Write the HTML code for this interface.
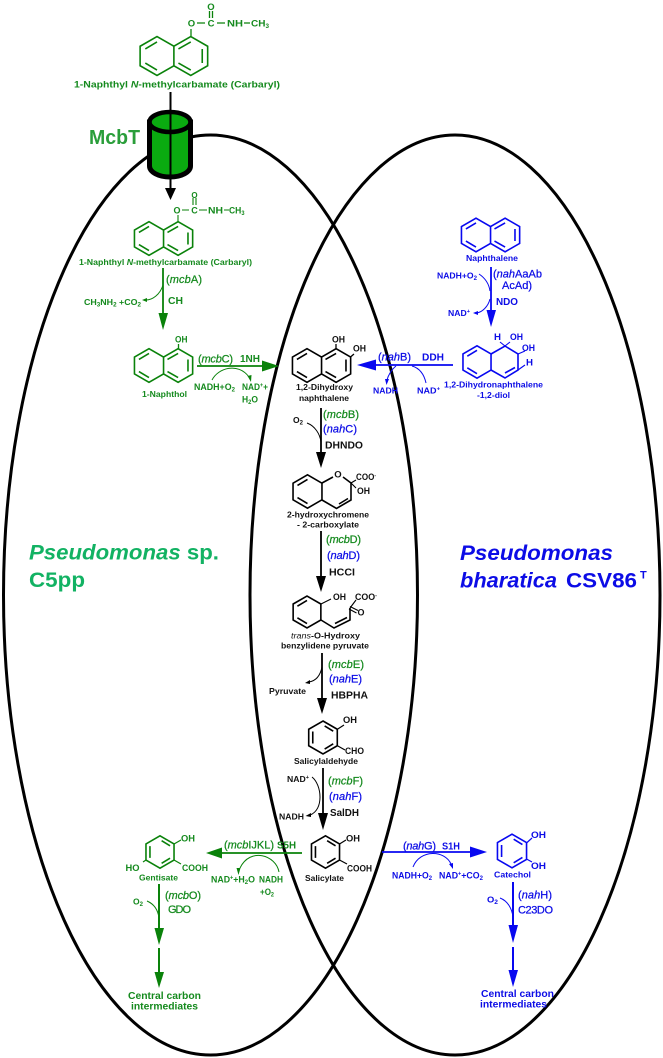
<!DOCTYPE html>
<html><head><meta charset="utf-8"><style>
html,body{margin:0;padding:0;background:#fff}
svg{display:block;filter:blur(.35px);font-size:8.5px}
text{font-family:"Liberation Sans",sans-serif;font-weight:bold;white-space:pre}
.g{fill:#158a1e}.b{fill:#0c0ce6}.k{fill:#111}
.m{font-size:10.5px}.st{font-size:9.5px}
.r{font-weight:normal;font-size:11px;stroke-width:.25px}
.r.g{stroke:#158a1e}.r.b{stroke:#0c0ce6}
.ring{fill:none;stroke-width:1.6px;stroke-linejoin:miter}
.c{fill:none;stroke-width:1px}
.lg{stroke:#0a820a;fill:none}.lb{stroke:#0808f0;fill:none}.lk{stroke:#000;fill:none}
.fg{fill:#0a820a}.fb{fill:#0808f0}.fk{fill:#000}
</style></head><body>
<svg width="663" height="1058" viewBox="0 0 663 1058" xmlns="http://www.w3.org/2000/svg">
<defs>
<g id="naph"><path vector-effect="non-scaling-stroke" d="M-8.66,-5L0,-10L8.66,-5L17.32,-10L25.98,-5V5L17.32,10L8.66,5L0,10L-8.66,5ZM8.66,-5V5M-6,-3.6L0,-7.2M-6,3.6L0,7.2M11,-3.6L17.32,-7.2M23.2,-3.6V3.6M11,3.6L17.32,7.2"/></g>
<g id="left"><path vector-effect="non-scaling-stroke" d="M-8.66,-5L0,-10L8.66,-5V5L0,10L-8.66,5ZM-6,-3.6L0,-7.2M-6,3.6L0,7.2"/></g>
<g id="bz"><path vector-effect="non-scaling-stroke" d="M0,-10L8.66,-5V5L0,10L-8.66,5V-5ZM-6.2,-3.6V3.6M1,-7L6.2,-3.8M1,7L6.2,3.8"/></g>
</defs>
<rect width="663" height="1058" fill="#fff"/>

<!-- cells -->
<ellipse cx="210.5" cy="595" rx="207" ry="460" fill="none" stroke="#000" stroke-width="3"/>
<ellipse cx="455" cy="595" rx="205" ry="460" fill="none" stroke="#000" stroke-width="3"/>

<!-- McbT transporter -->
<path d="M149.500,122V166A20.500,11 0 0 0 190.500,166V122Z" fill="#0aab10" stroke="#000" stroke-width="5"/>
<ellipse cx="170" cy="122" rx="20.500" ry="10" fill="#0aab10" stroke="#000" stroke-width="4.500"/>
<path class="lk" stroke-width="2" d="M170.500,92V190"/>
<polygon class="fk" points="165,188 176,188 170.500,200"/>
<text x="89" y="144" textLength="51" lengthAdjust="spacingAndGlyphs" style="font-size:20px;fill:#2a9e3a">McbT</text>

<!-- top carbaryl -->
<g class="ring lg" transform="translate(157,56) scale(1.95)"><use href="#naph"/></g>
<path class="lg" stroke-width="1.3" d="M191,36V29M197,23H205M217,23H225M244,23H250M209.500,11V18M212.500,11V18"/>
<text class="g st" x="191.500" y="26.500" text-anchor="middle">O</text>
<text class="g st" x="211" y="26.500" text-anchor="middle">C</text>
<text class="g st" x="211" y="10" text-anchor="middle">O</text>
<text class="g st" x="227" y="26.500" textLength="16" lengthAdjust="spacingAndGlyphs">NH</text>
<text class="g st" x="251" y="26.500" textLength="18" lengthAdjust="spacingAndGlyphs">CH<tspan dy="1.500" font-size="6">3</tspan></text>
<text class="g" x="74" y="87.500" textLength="206" lengthAdjust="spacingAndGlyphs" font-size="9.500">1-Naphthyl <tspan font-style="italic">N</tspan>-methylcarbamate (Carbaryl)</text>

<!-- second carbaryl -->
<g class="ring lg" transform="translate(149,238.500) scale(1.68)"><use href="#naph"/></g>
<path class="lg" stroke-width="1.1" d="M178,222V215M182,210H189M199,210H207M224,210H229M193,198V205M196,198V205"/>
<text class="g" x="177" y="213.500" text-anchor="middle" font-size="9">O</text>
<text class="g" x="194.500" y="213.500" text-anchor="middle" font-size="9">C</text>
<text class="g" x="194.500" y="198" text-anchor="middle" font-size="8">O</text>
<text class="g" x="208" y="213.500" textLength="15" lengthAdjust="spacingAndGlyphs" font-size="9">NH</text>
<text class="g" x="229" y="213.500" textLength="15.500" lengthAdjust="spacingAndGlyphs" font-size="9">CH<tspan dy="1.500" font-size="6">3</tspan></text>
<text class="g" x="79" y="265" textLength="173" lengthAdjust="spacingAndGlyphs">1-Naphthyl <tspan font-style="italic">N</tspan>-methylcarbamate (Carbaryl)</text>
<path class="lg" stroke-width="1.800" d="M163,268V316"/><polygon class="fg" points="158.500,313 168,313 163,330"/>
<text class="g r" x="166" y="283" textLength="36">(<tspan font-style="italic">mcb</tspan>A)</text>
<text class="g m" x="168" y="304" textLength="15" lengthAdjust="spacingAndGlyphs">CH</text>
<path class="lg c" d="M163,285C160,295 152,300 146,300"/><polygon class="fg" points="147,298 147,302 142,300"/>
<text class="g" x="84" y="305" textLength="57" lengthAdjust="spacingAndGlyphs">CH<tspan dy="1.500" font-size="6">3</tspan><tspan dy="-1.500">NH</tspan><tspan dy="1.500" font-size="6">2</tspan><tspan dy="-1.500"> +CO</tspan><tspan dy="1.500" font-size="6">2</tspan></text>

<!-- 1-naphthol -->
<g class="ring lg" transform="translate(149,365.500) scale(1.68)"><use href="#naph"/></g>
<path class="lg" stroke-width="1.300" d="M178.500,349V344"/>
<text class="g" x="175" y="342.500" textLength="12.500" lengthAdjust="spacingAndGlyphs" font-size="9">OH</text>
<text class="g" x="142" y="397" textLength="45" lengthAdjust="spacingAndGlyphs">1-Naphthol</text>
<path class="lg" stroke-width="1.800" d="M197,366H264"/><polygon class="fg" points="262,360.500 262,371.500 279,366"/>
<text class="g r" x="198" y="362.500" textLength="35">(<tspan font-style="italic">mcb</tspan>C)</text>
<text class="g m" x="240" y="362" textLength="20" lengthAdjust="spacingAndGlyphs">1NH</text>
<path class="lg c" d="M212,380C218,368 238,362 249,377"/><polygon class="fg" points="247.500,376 251.500,375 251,382"/>
<text class="g st" x="194" y="390" textLength="41" lengthAdjust="spacingAndGlyphs">NADH+O<tspan dy="1.500" font-size="6.500">2</tspan></text>
<text class="g st" x="242" y="390" textLength="26" lengthAdjust="spacingAndGlyphs">NAD<tspan dy="-3" font-size="6">+</tspan><tspan dy="3">+</tspan></text>
<text class="g st" x="242" y="402.500" textLength="16" lengthAdjust="spacingAndGlyphs">H<tspan dy="1.500" font-size="6.500">2</tspan><tspan dy="-1.500">O</tspan></text>

<!-- 1,2-dihydroxynaphthalene -->
<g class="ring lk" transform="translate(307,365.500) scale(1.68)"><use href="#naph"/></g>
<path class="lk" stroke-width="1.300" d="M336,349V344M350.500,357L354,354"/>
<text class="k" x="332" y="342.500" textLength="13" lengthAdjust="spacingAndGlyphs" font-size="9">OH</text>
<text class="k" x="353" y="351.500" textLength="13" lengthAdjust="spacingAndGlyphs" font-size="9">OH</text>
<text class="k" x="296" y="390" textLength="57" lengthAdjust="spacingAndGlyphs">1,2-Dihydroxy</text>
<text class="k" x="299" y="401" textLength="50" lengthAdjust="spacingAndGlyphs">naphthalene</text>

<path class="lk" stroke-width="1.800" d="M321,408V455"/><polygon class="fk" points="316,452 326,452 321,468"/>
<text class="g r" x="323" y="418" textLength="36">(<tspan font-style="italic">mcb</tspan>B)</text>
<text class="b r" x="323" y="432.500" textLength="34">(<tspan font-style="italic">nah</tspan>C)</text>
<text class="k m" x="325" y="448.500" textLength="38" lengthAdjust="spacingAndGlyphs">DHNDO</text>
<text class="k" x="293" y="423" textLength="10" lengthAdjust="spacingAndGlyphs">O<tspan dy="1.500" font-size="6">2</tspan></text>
<path class="lk c" d="M307,423C315,426 320,434 321,442"/>

<!-- chromene -->
<g class="ring lk" transform="translate(307.500,491.500) scale(1.67)"><use href="#left"/></g>
<path class="lk" stroke-width="1.600" d="M322,483L333,477M343,477L351,483V500L336.500,508.500L322,500M339,504L348,498.500"/>
<path class="lk" stroke-width="1.100" d="M351,483L356,480M351,483L356,488"/>
<text class="k" x="338" y="477.500" text-anchor="middle" font-size="9.500">O</text>
<text class="k" x="356" y="480" textLength="20" lengthAdjust="spacingAndGlyphs" font-size="9">COO<tspan dy="-3" font-size="5.500">-</tspan></text>
<text class="k" x="357" y="494" textLength="13" lengthAdjust="spacingAndGlyphs" font-size="9">OH</text>
<text class="k" x="287" y="517.500" textLength="82" lengthAdjust="spacingAndGlyphs">2-hydroxychromene</text>
<text class="k" x="297" y="527.500" textLength="62" lengthAdjust="spacingAndGlyphs">- 2-carboxylate</text>

<path class="lk" stroke-width="1.800" d="M321,531V579"/><polygon class="fk" points="316,576 326,576 321,592"/>
<text class="g r" x="326" y="543" textLength="35">(<tspan font-style="italic">mcb</tspan>D)</text>
<text class="b r" x="327" y="559" textLength="33">(<tspan font-style="italic">nah</tspan>D)</text>
<text class="k m" x="329" y="575.500" textLength="26" lengthAdjust="spacingAndGlyphs">HCCI</text>

<!-- trans-O-hydroxybenzylidene pyruvate -->
<g class="ring lk" transform="translate(307,612) scale(1.6)"><use href="#left"/></g>
<path class="lk" stroke-width="1.600" d="M321,620L334,628L350,620V608M335,623.500L347,617.500"/>
<path class="lk" stroke-width="1.100" d="M321,604L331,599M350,608L356,600M350,606.500L358,610.500M349,609L356.500,613"/>
<text class="k" x="333" y="600" textLength="13" lengthAdjust="spacingAndGlyphs" font-size="9">OH</text>
<text class="k" x="355" y="600" textLength="22" lengthAdjust="spacingAndGlyphs" font-size="9">COO<tspan dy="-3" font-size="5.500">-</tspan></text>
<text class="k" x="361" y="615.500" text-anchor="middle" font-size="9">O</text>
<text class="k" x="291" y="638.500" textLength="69" lengthAdjust="spacingAndGlyphs"><tspan font-style="italic" font-weight="normal">trans</tspan>-O-Hydroxy</text>
<text class="k" x="281" y="648.500" textLength="88" lengthAdjust="spacingAndGlyphs">benzylidene pyruvate</text>

<path class="lk" stroke-width="1.800" d="M322,653V701"/><polygon class="fk" points="317,698 327,698 322,714"/>
<text class="g r" x="328" y="668" textLength="36">(<tspan font-style="italic">mcb</tspan>E)</text>
<text class="b r" x="329" y="682.500" textLength="33">(<tspan font-style="italic">nah</tspan>E)</text>
<text class="k m" x="331" y="698.500" textLength="37" lengthAdjust="spacingAndGlyphs">HBPHA</text>
<text class="k" x="269" y="694" textLength="37" lengthAdjust="spacingAndGlyphs">Pyruvate</text>
<path class="lk c" d="M322,667C320,677 315,681 309,682"/><polygon class="fk" points="310,680 310,684 305,683"/>

<!-- salicylaldehyde -->
<g class="ring lk" transform="translate(323,737.500) scale(1.65)"><use href="#bz"/></g>
<path class="lk" stroke-width="1.200" d="M337,729.500L344,725M337,745.500L345,750"/>
<text class="k" x="343" y="723" textLength="14" lengthAdjust="spacingAndGlyphs" font-size="9.500">OH</text>
<text class="k" x="345" y="754" textLength="19" lengthAdjust="spacingAndGlyphs" font-size="9.500">CHO</text>
<text class="k" x="294" y="764" textLength="64" lengthAdjust="spacingAndGlyphs">Salicylaldehyde</text>

<path class="lk" stroke-width="1.800" d="M323,768V816"/><polygon class="fk" points="318,813 328,813 323,830"/>
<text class="g r" x="328" y="784.500" textLength="35">(<tspan font-style="italic">mcb</tspan>F)</text>
<text class="b r" x="329" y="800" textLength="33">(<tspan font-style="italic">nah</tspan>F)</text>
<text class="k m" x="330" y="816" textLength="29" lengthAdjust="spacingAndGlyphs">SalDH</text>
<text class="k" x="287" y="782" textLength="22" lengthAdjust="spacingAndGlyphs">NAD<tspan dy="-3" font-size="5.500">+</tspan></text>
<text class="k" x="279" y="819.500" textLength="25" lengthAdjust="spacingAndGlyphs">NADH</text>
<path class="lk c" d="M312,777C322,785 324,810 310,815"/><polygon class="fk" points="311,813 311,817 305.500,816"/>

<!-- salicylate -->
<g class="ring lk" transform="translate(325.500,852) scale(1.62)"><use href="#bz"/></g>
<path class="lk" stroke-width="1.200" d="M339.500,844L346,840M339.500,860L347,864"/>
<text class="k" x="346" y="841.500" textLength="14" lengthAdjust="spacingAndGlyphs" font-size="9.500">OH</text>
<text class="k" x="347" y="871.500" textLength="25" lengthAdjust="spacingAndGlyphs" font-size="9.500">COOH</text>
<text class="k" x="305" y="881" textLength="39" lengthAdjust="spacingAndGlyphs">Salicylate</text>

<!-- gentisate side -->
<path class="lg" stroke-width="1.800" d="M302,853H220"/><polygon class="fg" points="222,847.500 222,858.500 206,853"/>
<text class="g r" x="224" y="848.500" textLength="50">(<tspan font-style="italic">mcb</tspan>IJKL)</text>
<text class="g m" x="277" y="848.500" textLength="19" lengthAdjust="spacingAndGlyphs">S5H</text>
<path class="lg c" d="M279,872C276,855 250,847 240,868"/><polygon class="fg" points="236.500,868 240.500,868 238.500,875"/>
<text class="g st" x="211" y="882.500" textLength="44" lengthAdjust="spacingAndGlyphs">NAD<tspan dy="-3" font-size="6">+</tspan><tspan dy="3">+H</tspan><tspan dy="1.500" font-size="6.500">2</tspan><tspan dy="-1.500">O</tspan></text>
<text class="g st" x="259" y="882.500" textLength="24" lengthAdjust="spacingAndGlyphs">NADH</text>
<text class="g st" x="260" y="895" textLength="14" lengthAdjust="spacingAndGlyphs">+O<tspan dy="1.500" font-size="6.500">2</tspan></text>

<g class="ring lg" transform="translate(160,852) scale(1.62)"><use href="#bz"/></g>
<path class="lg" stroke-width="1.200" d="M174,844L181,840M174,860L181,864M146,860L143,862"/>
<text class="g" x="181" y="841.500" textLength="14" lengthAdjust="spacingAndGlyphs" font-size="9.500">OH</text>
<text class="g" x="182" y="871" textLength="26" lengthAdjust="spacingAndGlyphs" font-size="9.500">COOH</text>
<text class="g" x="125.500" y="871" textLength="14" lengthAdjust="spacingAndGlyphs" font-size="9.500">HO</text>
<text class="g" x="139" y="880.500" textLength="39" lengthAdjust="spacingAndGlyphs">Gentisate</text>

<path class="lg" stroke-width="2" d="M159,884V931"/><polygon class="fg" points="154.500,928 164,928 159,945"/>
<path class="lg" stroke-width="2" d="M159,948V975"/><polygon class="fg" points="154.500,972 164,972 159,988"/>
<text class="g r" x="165" y="899" textLength="36">(<tspan font-style="italic">mcb</tspan>O)</text>
<text class="g r" x="168" y="913" textLength="23">GDO</text>
<text class="g" x="133" y="904.500" textLength="10" lengthAdjust="spacingAndGlyphs">O<tspan dy="1.500" font-size="6">2</tspan></text>
<path class="lg c" d="M147,901C154,904 158,910 159,918"/>
<text class="g" x="128" y="999" textLength="73" lengthAdjust="spacingAndGlyphs" font-size="10.500">Central carbon</text>
<text class="g" x="131" y="1009.500" textLength="67" lengthAdjust="spacingAndGlyphs" font-size="10.500">intermediates</text>

<!-- naphthalene (blue) -->
<g class="ring lb" transform="translate(476,235) scale(1.68)"><use href="#naph"/></g>
<text class="b" x="466" y="261" textLength="52" lengthAdjust="spacingAndGlyphs">Naphthalene</text>
<path class="lb" stroke-width="1.800" d="M491,267V313"/><polygon class="fb" points="486.500,310 496,310 491,327"/>
<text class="b r" x="493" y="277.500" textLength="49">(<tspan font-style="italic">nah</tspan>AaAb</text>
<text class="b r" x="502" y="289" textLength="30">AcAd)</text>
<text class="b m" x="496" y="305" textLength="22" lengthAdjust="spacingAndGlyphs">NDO</text>
<text class="b" x="437" y="278.500" textLength="40" lengthAdjust="spacingAndGlyphs">NADH+O<tspan dy="1.500" font-size="6">2</tspan></text>
<text class="b" x="448" y="316" textLength="22" lengthAdjust="spacingAndGlyphs">NAD<tspan dy="-3" font-size="5.500">+</tspan></text>
<path class="lb c" d="M479,274C485,278 489,284 490,291M490,299C488,307 482,312 477,313"/><polygon class="fb" points="478,311 478,315 473,313"/>

<!-- diol -->
<g class="ring lb" transform="translate(477,362) scale(1.62)"><use href="#left"/></g>
<path class="lb" stroke-width="1.600" d="M491,354L505,346L518,354L518,370L505,378L491,370M505,373L515,367.500"/>
<path class="lb" stroke-width="1.100" d="M505,346L500,342M505,346L510,342M518,354L525,351M518,370L525,365"/>
<text class="b" x="494" y="340" textLength="7" lengthAdjust="spacingAndGlyphs" font-size="9">H</text>
<text class="b" x="510" y="340" textLength="13" lengthAdjust="spacingAndGlyphs" font-size="9">OH</text>
<text class="b" x="522" y="351" textLength="13" lengthAdjust="spacingAndGlyphs" font-size="9">OH</text>
<text class="b" x="526" y="365.500" textLength="7" lengthAdjust="spacingAndGlyphs" font-size="9">H</text>
<text class="b" x="444" y="387.500" textLength="99" lengthAdjust="spacingAndGlyphs">1,2-Dihydronaphthalene</text>
<text class="b" x="477" y="398" textLength="33" lengthAdjust="spacingAndGlyphs">-1,2-diol</text>

<path class="lb" stroke-width="1.800" d="M453,365H373"/><polygon class="fb" points="376,359.500 376,370.500 357,365"/>
<text class="b r" x="378" y="360.500" textLength="33">(<tspan font-style="italic">nah</tspan>B)</text>
<text class="b m" x="422" y="360.500" textLength="22" lengthAdjust="spacingAndGlyphs">DDH</text>
<path class="lb c" d="M426,383C424,374 419,368 412,366M396,366C391,370 388,376 387,380"/><polygon class="fb" points="385,379 389,379 386.500,385"/>
<text class="b" x="373" y="393.500" textLength="25" lengthAdjust="spacingAndGlyphs">NADH</text>
<text class="b" x="417" y="393.500" textLength="23" lengthAdjust="spacingAndGlyphs">NAD<tspan dy="-3" font-size="5.500">+</tspan></text>

<!-- catechol side -->
<path class="lb" stroke-width="1.800" d="M382,852H473"/><polygon class="fb" points="470,846.500 470,857.500 487,852"/>
<text class="b r" x="403" y="849.500" textLength="33">(<tspan font-style="italic">nah</tspan>G)</text>
<text class="b m" x="442" y="849.500" textLength="18" lengthAdjust="spacingAndGlyphs">S1H</text>
<path class="lb c" d="M413,867C420,849 445,850 451,864"/><polygon class="fb" points="449,864 453,863 453,869"/>
<text class="b st" x="392" y="878.500" textLength="40" lengthAdjust="spacingAndGlyphs">NADH+O<tspan dy="1.500" font-size="6.500">2</tspan></text>
<text class="b st" x="439" y="878.500" textLength="44" lengthAdjust="spacingAndGlyphs">NAD<tspan dy="-3" font-size="6">+</tspan><tspan dy="3">+CO</tspan><tspan dy="1.500" font-size="6.500">2</tspan></text>

<g class="ring lb" transform="translate(512,851) scale(1.68)"><use href="#bz"/></g>
<path class="lb" stroke-width="1.200" d="M526.500,843L532,838M526.500,859L532,862"/>
<text class="b" x="531" y="838" textLength="15" lengthAdjust="spacingAndGlyphs" font-size="9.500">OH</text>
<text class="b" x="531" y="869" textLength="15" lengthAdjust="spacingAndGlyphs" font-size="9.500">OH</text>
<text class="b" x="494" y="877.500" textLength="37" lengthAdjust="spacingAndGlyphs">Catechol</text>
<path class="lb" stroke-width="2" d="M513,882V928"/><polygon class="fb" points="508.500,925 518,925 513,943"/>
<path class="lb" stroke-width="2" d="M513,947V973"/><polygon class="fb" points="508.500,970 518,970 513,987"/>
<text class="b r" x="518" y="898.500" textLength="34">(<tspan font-style="italic">nah</tspan>H)</text>
<text class="b r" x="518" y="913.500" textLength="35">C23DO</text>
<text class="b" x="487" y="902.500" textLength="11" lengthAdjust="spacingAndGlyphs">O<tspan dy="1.500" font-size="6">2</tspan></text>
<path class="lb c" d="M500,898C508,901 512,909 513,917"/>
<text class="b" x="481" y="997" textLength="73" lengthAdjust="spacingAndGlyphs" font-size="10.500">Central carbon</text>
<text class="b" x="480" y="1007.500" textLength="67" lengthAdjust="spacingAndGlyphs" font-size="10.500">intermediates</text>

<!-- organism labels -->
<text x="29" y="559.500" textLength="190" lengthAdjust="spacingAndGlyphs" style="font-size:21px;fill:#12b263"><tspan font-style="italic">Pseudomonas</tspan> sp.</text>
<text x="29" y="587" textLength="56" lengthAdjust="spacingAndGlyphs" style="font-size:21px;fill:#12b263">C5pp</text>
<text x="460" y="560" textLength="153" lengthAdjust="spacingAndGlyphs" style="font-size:21px;fill:#0c0ce6;font-style:italic">Pseudomonas</text>
<text x="460" y="587.500" textLength="97" lengthAdjust="spacingAndGlyphs" style="font-size:21px;fill:#0c0ce6;font-style:italic">bharatica</text>
<text x="566" y="587.500" textLength="71" lengthAdjust="spacingAndGlyphs" style="font-size:21px;fill:#0c0ce6">CSV86</text>
<text x="640" y="578.500" style="font-size:11px;fill:#0c0ce6">T</text>
</svg>
</body></html>
